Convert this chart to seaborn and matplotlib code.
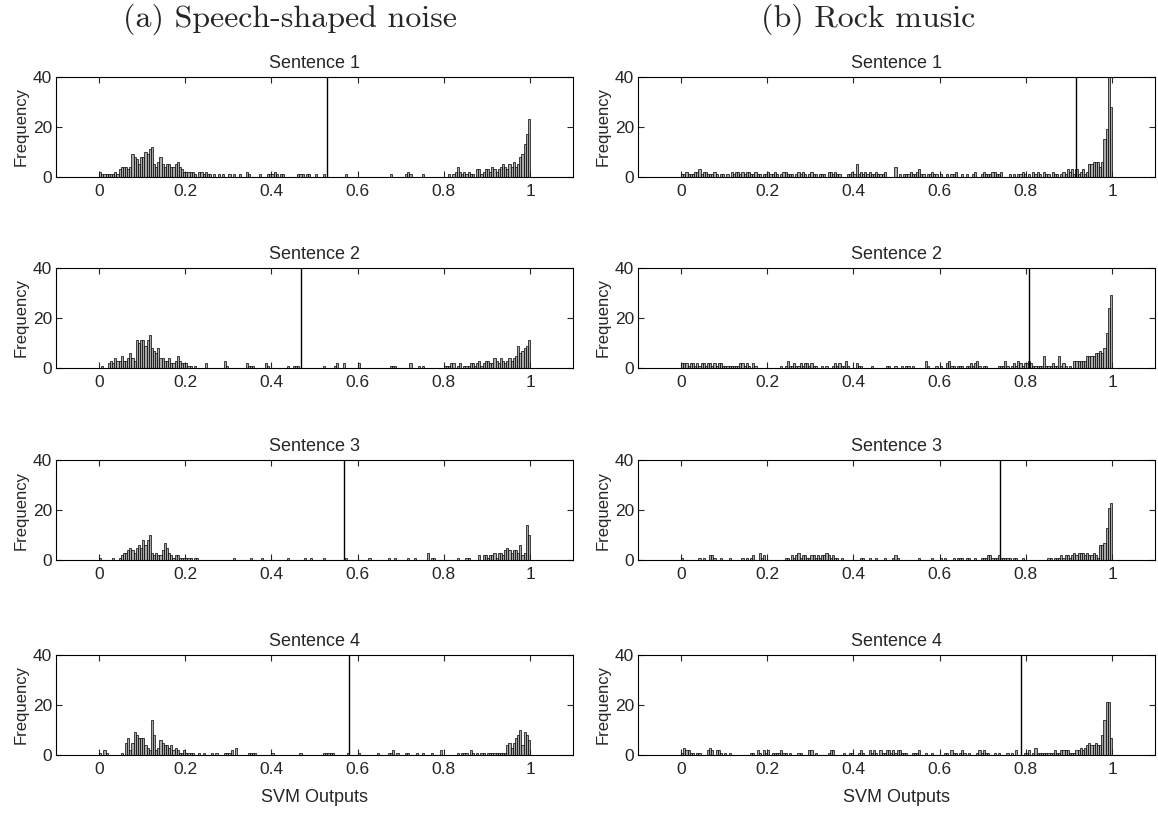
import numpy as np
import pandas as pd
import matplotlib
matplotlib.use("Agg")
import matplotlib.pyplot as plt
import seaborn as sns

# ---- data: counts per bin (200 bins of width 0.005 on [0, 1]) ----
speech_s1 = [
    2,1,1,1,1,1,1,2,1,3, 4,4,4,3,4,9,8,7,5,8,
    8,10,9,11,12,5,4,6,8,5, 4,5,5,4,4,5,6,4,3,2,
    2,2,2,2,1,0,2,2,1,2, 1,1,0,1,0,1,0,1,0,0,
    1,0,1,0,0,1,0,0,2,1, 0,0,0,0,1,0,0,0,1,1,
    1,2,1,0,1,1,0,0,0,0, 0,0,1,1,1,0,1,1,0,0,
    1,0,0,0,1,0,0,0,0,0, 0,0,0,0,1,0,0,0,0,0,
    0,0,0,0,0,0,0,0,0,0, 0,0,0,0,0,1,0,0,0,0,
    0,0,1,2,1,0,0,0,0,0, 1,0,0,0,0,0,0,0,0,0,
    0,0,1,0,1,2,4,2,1,2, 1,2,1,1,0,3,3,1,2,3,
    3,2,4,3,2,3,4,5,4,3, 5,4,6,4,5,8,9,13,17,23,
]
speech_s2 = [
    0,1,0,0,2,3,2,4,3,3, 5,3,3,4,6,4,3,11,10,11,
    11,9,11,13,8,7,6,8,4,4, 3,3,4,2,2,3,5,3,2,2,
    2,1,1,0,1,0,0,0,0,2, 0,0,0,0,0,0,0,0,3,1,
    0,0,0,0,0,0,0,0,2,1, 1,1,0,0,0,0,0,2,1,0,
    0,0,0,0,0,0,0,1,0,0, 1,1,1,0,0,0,0,0,0,0,
    0,0,0,0,1,0,0,0,0,1, 2,0,0,2,0,0,0,0,0,0,
    2,0,0,0,0,0,0,0,0,0, 0,0,0,0,0,1,1,1,0,0,
    0,0,0,0,2,0,0,0,1,0, 1,0,0,0,0,0,0,0,0,0,
    1,1,1,2,2,0,1,2,0,1, 1,1,2,2,1,2,3,1,2,3,
    3,2,2,4,3,2,4,3,2,3, 4,3,4,5,9,6,7,8,9,11,
]
speech_s3 = [
    1,0,0,0,0,0,1,0,0,1, 2,3,3,4,5,4,3,5,6,5,
    8,6,8,10,3,2,3,2,2,4, 7,5,3,2,1,2,2,1,1,1,
    1,1,1,0,1,1,0,0,0,0, 0,0,0,0,0,0,0,0,0,0,
    0,0,1,0,0,0,0,0,0,0, 1,0,0,0,0,1,0,0,0,0,
    0,0,0,0,0,0,0,1,0,0, 0,0,0,0,0,1,0,0,1,0,
    0,0,0,0,1,0,0,0,0,0, 0,0,0,0,1,0,0,0,0,0,
    0,0,0,0,0,1,0,0,0,0, 0,0,0,0,1,0,0,1,0,0,
    0,0,0,1,0,0,1,0,0,0, 0,0,3,0,1,1,0,0,0,0,
    0,0,0,0,0,0,1,0,0,0, 1,1,0,0,0,0,2,0,2,2,
    1,2,2,3,1,3,3,2,4,5, 4,3,4,4,3,6,2,3,14,10,
]
speech_s4 = [
    1,0,2,1,0,0,0,0,0,0, 1,0,5,7,2,5,9,8,7,7,
    7,4,3,2,14,8,2,3,6,5, 4,4,3,4,2,3,2,1,1,2,
    1,1,1,1,0,0,1,0,1,0, 0,0,1,0,1,0,0,0,1,1,
    1,2,0,3,0,0,0,0,0,1, 1,1,1,0,0,0,0,0,0,0,
    1,0,0,0,0,0,0,0,0,0, 0,0,0,1,0,0,0,0,0,0,
    0,0,0,0,1,1,1,1,1,0, 0,0,0,0,0,1,0,0,0,0,
    1,0,0,0,0,0,0,0,0,1, 0,0,0,0,1,1,2,0,1,0,
    0,0,1,1,0,0,0,1,0,0, 1,0,0,0,1,0,0,0,2,0,
    0,0,0,0,0,0,1,0,1,1, 1,0,2,1,0,1,0,1,1,0,
    1,1,1,1,1,1,1,1,1,4, 5,3,5,7,8,10,4,9,8,6,
]
rock_s1 = [
    1,1,2,1,1,1,2,2,3,1, 2,2,1,1,1,2,1,0,1,1,
    0,1,0,2,1,2,2,1,2,1, 2,2,1,1,2,1,1,0,1,1,
    2,1,1,2,1,0,1,2,2,1, 1,1,0,1,2,1,2,1,0,1,
    2,1,1,0,1,1,1,0,2,2, 1,2,1,1,0,0,0,1,1,2,
    1,5,1,2,1,2,1,2,1,1, 2,1,1,1,2,0,0,0,0,4,
    0,1,0,1,1,1,2,1,1,2, 3,1,1,0,1,1,2,1,1,0,
    1,0,0,1,0,1,1,2,0,0, 1,0,1,0,0,1,2,0,0,1,
    2,1,1,1,2,2,1,1,2,0, 0,0,1,0,1,0,1,1,2,1,
    0,1,0,2,1,2,1,0,2,1, 1,0,2,1,1,0,1,2,1,3,
    2,3,1,3,1,2,3,1,2,5, 5,6,6,6,4,6,15,19,45,28,
]
rock_s2 = [
    2,2,2,1,2,2,1,2,1,2, 2,1,2,2,1,2,1,2,2,1,
    1,1,1,1,1,1,1,2,2,1, 2,1,0,2,1,0,0,0,0,0,
    0,0,0,0,0,0,1,0,1,3, 1,1,2,1,1,2,1,2,2,1,
    2,1,1,0,0,1,0,1,0,0, 1,2,1,2,1,1,3,1,0,0,
    0,2,1,1,0,0,0,0,1,0, 0,0,0,0,0,1,1,0,0,1,
    0,0,1,0,1,1,0,1,0,0, 0,0,0,3,1,0,0,0,1,0,
    1,0,0,2,3,1,1,0,1,1, 1,0,1,1,2,1,2,3,1,0,
    1,1,0,0,0,0,0,1,1,1, 3,1,0,1,2,1,3,2,1,2,
    2,3,2,1,1,1,1,1,5,1, 1,1,2,1,1,5,1,2,1,0,
    1,0,3,3,3,3,3,3,5,5, 5,5,6,6,7,6,8,14,24,29,
]
rock_s3 = [
    1,0,0,0,0,0,0,0,1,0, 1,0,0,2,2,1,0,0,1,0,
    0,0,1,0,0,0,0,0,1,0, 1,0,1,2,0,0,3,1,2,0,
    0,0,0,0,0,0,0,0,1,1, 0,2,1,2,3,1,2,2,1,1,
    2,2,1,2,1,2,2,3,2,1, 2,1,1,0,1,0,0,0,0,0,
    0,0,0,1,1,0,0,1,0,0, 1,0,0,0,1,0,0,0,1,2,
    1,0,0,0,0,0,0,0,0,0, 1,0,0,0,0,0,1,0,0,0,
    1,0,1,0,0,0,1,0,1,1, 1,0,1,1,0,0,1,0,0,1,
    1,1,2,2,1,1,1,2,1,1, 1,1,1,0,1,1,0,0,1,0,
    0,0,0,0,0,0,0,0,0,0, 1,1,0,1,1,1,2,1,2,2,
    1,2,3,2,3,3,3,2,3,2, 2,3,2,1,6,6,7,13,21,23,
]
rock_s4 = [
    1,3,2,2,1,1,0,1,1,0, 0,0,2,3,2,0,2,2,1,0,
    1,0,1,0,0,0,0,0,0,0, 0,0,1,1,0,2,1,0,2,1,
    2,0,1,1,1,1,2,1,1,0, 1,0,0,0,1,1,0,0,0,2,
    2,0,1,0,0,0,0,0,1,2, 2,0,0,0,0,1,0,0,1,1,
    0,0,1,2,1,0,0,2,1,2, 1,0,2,1,1,2,2,1,2,1,
    2,2,1,1,1,0,0,1,1,1, 2,0,0,1,0,0,1,0,0,0,
    0,0,1,1,0,2,1,1,0,1, 2,1,0,1,0,0,0,1,2,1,
    2,1,1,0,0,1,0,1,0,0, 0,1,0,1,0,2,0,0,0,1,
    1,2,0,1,3,1,1,1,1,1, 1,1,1,2,1,1,2,2,2,2,
    1,1,1,2,2,3,2,3,4,5, 4,4,5,4,4,8,14,21,21,7,
]
speech_thresholds = [0.528, 0.469, 0.569, 0.579]
rock_thresholds = [0.917, 0.808, 0.739, 0.788]
column_titles = ["(a) Speech-shaped noise", "(b) Rock music"]
row_titles = ["Sentence 1", "Sentence 2", "Sentence 3", "Sentence 4"]
x_ticks = [0, 0.2, 0.4, 0.6, 0.8, 1]
x_tick_labels = ["0", "0.2", "0.4", "0.6", "0.8", "1"]
y_ticks = [0, 20, 40]

# ---- drawing ----
sns.set_style("ticks")
plt.rcParams["font.family"] = ["Liberation Sans", "DejaVu Sans"]

n_bins = 200
centers = (np.arange(n_bins) + 0.5) / n_bins

columns = [
    ([speech_s1, speech_s2, speech_s3, speech_s4], speech_thresholds),
    ([rock_s1, rock_s2, rock_s3, rock_s4], rock_thresholds),
]

fig = plt.figure(figsize=(11.58, 8.22), dpi=100)
lefts = [0.0484, 0.551]
width = 0.4465
bottoms = [0.7847, 0.5523, 0.3187, 0.0815]
height = 0.1217

for c, (series, thresholds) in enumerate(columns):
    for r in range(4):
        ax = fig.add_axes([lefts[c], bottoms[r], width, height])
        df = pd.DataFrame({"x": centers, "count": np.asarray(series[r], float)})
        sns.histplot(data=df, x="x", weights="count", binwidth=1.0 / n_bins,
                     binrange=(0, 1), ax=ax,
                     color="#a8a8a8", edgecolor="black", linewidth=0.5,
                     alpha=1.0)
        ax.axvline(thresholds[r], color="black", lw=1.0)
        ax.set_xlim(-0.1, 1.1)
        ax.set_ylim(0, 40)
        ax.set_xticks(x_ticks)
        ax.set_xticklabels(x_tick_labels)
        ax.set_yticks(y_ticks)
        ax.tick_params(direction="in", top=True, right=True, length=4,
                       width=0.8, labelsize=12.5)
        ax.tick_params(axis="x", pad=5)
        ax.tick_params(axis="y", pad=3)
        for s in ax.spines.values():
            s.set_linewidth(0.8)
            s.set_color("black")
        ax.set_title(row_titles[r], fontsize=13, pad=6.5)
        ax.set_ylabel("Frequency", fontsize=12, labelpad=3)
        if r == 3:
            ax.set_xlabel("SVM Outputs", fontsize=13, labelpad=9)
        else:
            ax.set_xlabel("")

fig.text(290 / 1158, 1 - 27 / 822, column_titles[0], family="cmr10",
         fontsize=23, ha="center", va="baseline")
fig.text(868 / 1158, 1 - 27 / 822, column_titles[1], family="cmr10",
         fontsize=23, ha="center", va="baseline")

fig.savefig("out.png", dpi=100)
